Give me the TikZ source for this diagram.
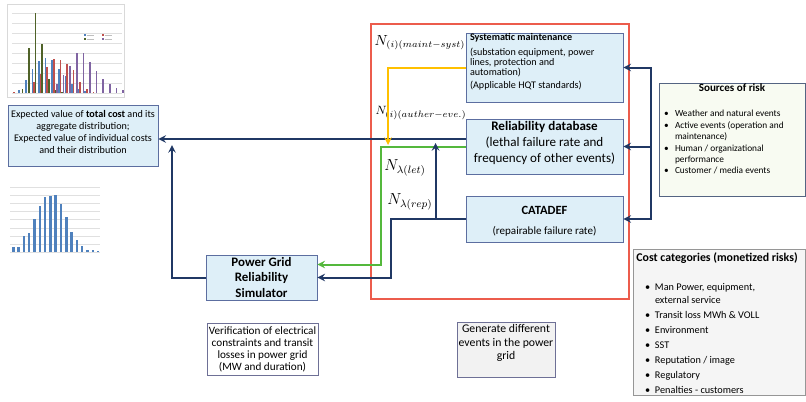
\documentclass[tikz,border=0pt]{standalone}
\usepackage{fontspec}
\setmainfont{Carlito}
\usetikzlibrary{positioning,calc}

\definecolor{navy}{RGB}{32,56,100}
\definecolor{frame}{RGB}{236,92,76}
\definecolor{yel}{RGB}{255,192,0}
\definecolor{grn}{RGB}{84,184,60}
\definecolor{boxfill}{RGB}{222,239,248}
\definecolor{boxline}{RGB}{92,110,160}
\definecolor{srcfill}{RGB}{248,251,242}
\definecolor{srcline}{RGB}{84,100,130}
\definecolor{costfill}{RGB}{245,245,245}
\definecolor{costline}{RGB}{150,150,150}
\definecolor{genfill}{RGB}{242,242,242}
\definecolor{noteline}{RGB}{110,112,150}
\definecolor{barblue}{RGB}{79,129,189}
\definecolor{barred}{RGB}{192,80,77}
\definecolor{bargreen}{RGB}{79,98,40}
\definecolor{barpurple}{RGB}{128,100,162}

\newcommand\setfs[2]{\fontsize{#1}{#2}\selectfont}
\newlength\bulskip
\newlength\bulind
\newlength\bulgap
\newcommand\bitem[1]{\par\vspace{\bulgap}\hangindent=\dimexpr\bulskip+\bulind\relax\hangafter=1\noindent\hspace*{\bulskip}\makebox[\bulind][l]{\textbullet}#1}

\begin{document}
\begin{tikzpicture}[x=0.75pt,y=-0.75pt,
    >=stealth,
    panel/.style={draw=boxline, fill=boxfill, line width=0.6pt, inner sep=0pt, align=center},
    note/.style={draw=noteline, line width=0.6pt, inner sep=0pt, align=center},
    nline/.style={->, draw=navy, line width=1.5pt},
    yline/.style={->, draw=yel, line width=1.5pt},
    gline/.style={->, draw=grn, line width=1.5pt},
    grid/.style={draw=black!12, line width=0.3pt}
  ]
  \useasboundingbox (0,0) rectangle (806,401);

  % small chart, top left (four series)
  \draw[draw=black!15, line width=0.4pt] (7,4) rectangle (124,97);
  \foreach \g in {0,...,8}
    \draw[grid] (12,{93-10*\g}) -- (122,{93-10*\g});
  \foreach \k/\h in {1/0.3,2/1.3,3/2.4,4/3.2,5/3.5,6/3.3,7/2.4,8/1.7,9/0.9,10/0.4,11/0.2}
    \fill[barblue] ({15+6.6*\k-3.2},93) rectangle ++(1.5,{-10*\h});
  \foreach \k/\h in {0/0.1,3/1.1,4/1.9,5/2.6,6/3.4,7/3.3,8/2.9,9/2.3,10/1.1,11/0.4,12/0.1}
    \fill[barred] ({15+6.6*\k-1.6},93) rectangle ++(1.5,{-10*\h});
  \foreach \k/\h in {1/0.4,2/4.5,3/8.0,4/4.9,5/1.4,6/0.3,7/0.1}
    \fill[bargreen] ({15+6.6*\k},93) rectangle ++(1.5,{-10*\h});
  \foreach \k/\h in {6/0.9,7/1.8,8/2.7,9/4.0,10/4.0,11/3.1,12/2.2,13/1.4,14/0.9,15/0.5,16/0.3}
    \fill[barpurple] ({15+6.6*\k+1.6},93) rectangle ++(1.5,{-10*\h});
  \foreach \c/\lx/\ly in {barblue/84/36,barred/102/36,bargreen/84/40,barpurple/102/40}{
    \fill[\c] (\lx,\ly) rectangle ++(1.6,-1.6);
    \draw[black!25, line width=0.5pt] (\lx+2.5,\ly-0.8) -- ++(7,0);
  }

  % small chart, bottom left (histogram)
  \foreach \g in {0,...,8}
    \draw[grid] (10,{252-8.1*\g}) -- (100,{252-8.1*\g});
  \foreach \h [count=\k from 0] in {4.7,5,15.7,19,33,46.3,54.7,56.3,56.7,48.3,35,19.7,12.3,5.7,2.3,1.7,1}
    \fill[barblue] ({12+5.3*\k},252) rectangle ++(2.5,-\h);

  % frame round the event generation part
  \draw[draw=frame, line width=1.1pt] (371,24) rectangle (629,299);

  % boxes
  \node[panel, minimum width=112.5pt, minimum height=45.75pt] (exp) at (83,135.5)
    {\parbox[c][45.75pt][t]{112pt}{\centering\setfs{7.6}{9}\vspace*{3.7pt}Expected value of \textbf{total cost} and its\\ aggregate distribution;\\ Expected value of individual costs\\ and their distribution}};

  \node[panel, minimum width=117.75pt, minimum height=51.75pt] (sys) at (544.5,67.5)
    {\parbox[c][51.75pt][t]{111.75pt}{\raggedright\setfs{7.6}{7.6}\lineskiplimit=-20pt
      {\bfseries Systematic maintenance}\par\vspace{3.9pt}
      (substation equipment, power\\ lines, protection and\\ automation)\par\vspace{1.9pt}
      (Applicable HQT standards)}};

  \node[panel, minimum width=117.75pt, minimum height=41.25pt] (db) at (544.5,146.5)
    {\parbox[c][41.25pt][t]{116pt}{\centering\setfs{9.8}{12}\vspace*{1.4pt}{\bfseries Reliability database}\\ (lethal failure rate and\\ frequency of other events)}};

  \node[panel, minimum width=117.75pt, minimum height=34.5pt] (cat) at (544.5,219)
    {\parbox[c][34.5pt][t]{116pt}{\centering\vspace*{7.4pt}{\setfs{9.4}{11}\bfseries CATADEF\par}
      \setfs{8.3}{15.4}(repairable failure rate)\par}};

  \node[panel, minimum width=83.25pt, minimum height=33.75pt, font=\setfs{9.7}{11.6}\bfseries] (sim) at (261.5,277.5)
    {Power Grid\\ Reliability\\ Simulator};

  \node[note, fill=white, minimum width=83.25pt, minimum height=39pt, font=\setfs{8.4}{9}] (ver) at (262.5,349)
    {Verification of electrical\\ constraints and transit\\ losses in power grid\\ (MW and duration)};

  \node[note, fill=genfill, minimum width=73.5pt, minimum height=41.25pt] (gen) at (506,349.5)
    {\parbox[c][41.25pt][t]{73pt}{\centering\setfs{8.8}{10.2}\vspace*{1.8pt}Generate different\\ events in the power\\ grid}};

  \node[draw=srcline, fill=srcfill, line width=0.6pt, inner sep=0pt, minimum width=109.5pt, minimum height=84.75pt] (src) at (732,139.5)
    {\parbox[c][84.75pt][t]{102pt}{\setlength\bulskip{0pt}\setlength\bulind{8.25pt}\setlength\bulgap{0pt}%
      \vspace*{0.8pt}{\centering\setfs{8.3}{10}\bfseries Sources of risk\par}
      \vspace{10.2pt}\setfs{7}{8.55}
      \bitem{Weather and natural events}
      \bitem{Active events (operation and\\ maintenance)}
      \bitem{Human / organizational\\ performance}
      \bitem{Customer / media events}\par}};

  \node[draw=costline, fill=costfill, line width=0.6pt, inner sep=0pt, minimum width=129pt, minimum height=109.5pt] (cost) at (719,322)
    {\parbox[c][109.5pt][t]{124pt}{\setlength\bulskip{6.5pt}\setlength\bulind{7.5pt}\setlength\bulgap{1.5pt}%
      \vspace*{2.7pt}{\setfs{8.9}{10}\bfseries Cost categories (monetized risks)\par}
      \vspace{10.5pt}\setfs{7.7}{9.75}
      \bitem{Man Power, equipment,\\ external service}
      \bitem{Transit loss MWh \& VOLL}
      \bitem{Environment}
      \bitem{SST}
      \bitem{Reputation / image}
      \bitem{Regulatory}
      \bitem{Penalties - customers}\par}};

  % flow labels
  \node[font=\setfs{10.5}{12}] (nsys) at (420,43) {$N_{(i)(maint-syst)}$};
  \node[font=\setfs{9.5}{11}] (neve) at (421,113) {$N_{(i)(auther-eve.)}$};
  \node[font=\setfs{12}{14}] (nlet) at (405,168) {$N_{\lambda(let)}$};
  \node[font=\setfs{12}{14}] (nrep) at (410,202) {$N_{\lambda(rep)}$};

  % connectors
  \coordinate (bus) at ([xshift=-6pt]src.west |- db.east);
  \coordinate (simtip) at (172,145);
  \coordinate (yeltip) at (388,145);

  \draw[nline] (bus) |- (sys.east);
  \draw[nline] (bus) -- (db.east);
  \draw[nline] (bus) |- (cat.east);

  \draw[nline] ([yshift=5.6pt]db.west) coordinate (dbout) -- (dbout -| exp.east);
  \draw[yline] (sys.west) -| (yeltip);
  \draw[gline] (db.west) -- ++(-85,0) |- ([yshift=9.75pt]sim.east);
  \draw[nline] (cat.west) -- ++(-75,0) |- (sim.east);
  \draw[nline] ([xshift=-22.5pt]cat.west) -- ++(0,-76);
  \draw[nline] (sim.west) -| (simtip);

\end{tikzpicture}
\end{document}
